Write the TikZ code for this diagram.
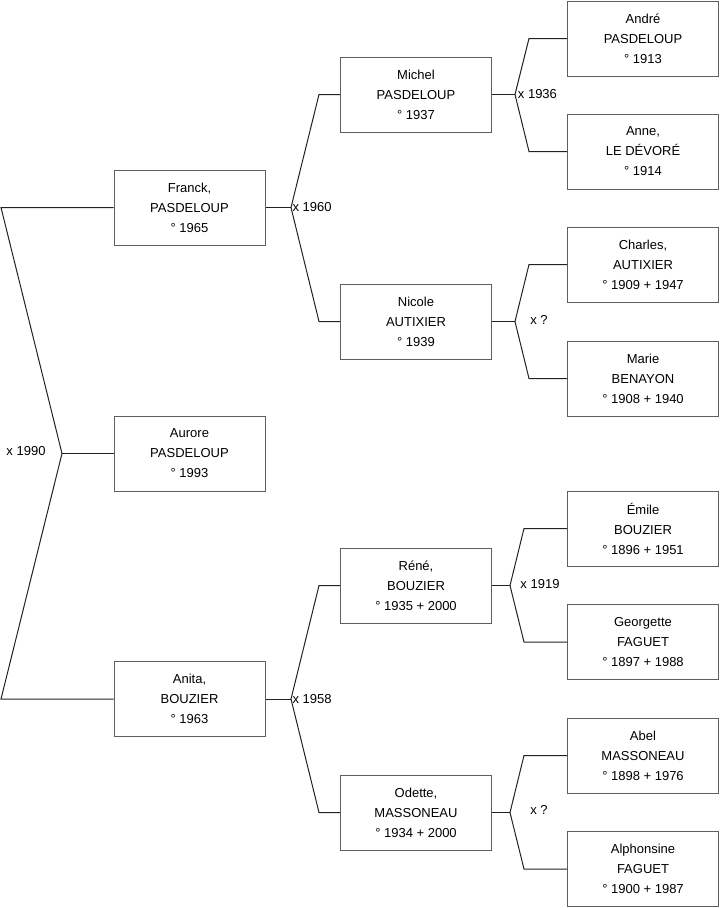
\documentclass[tikz,border=0pt]{standalone}
\usepackage{fontspec}
\setmainfont{Liberation Sans}
\definecolor{BoxGray}{HTML}{5F5F5F}
\definecolor{LineDark}{HTML}{222222}
\tikzset{
  person/.style={draw=BoxGray,line width=.75pt,minimum width=113.25pt,minimum height=56.25pt,
    align=center,inner sep=0pt,font=\fontsize{9.75}{15}\selectfont},
  union/.style={font=\fontsize{9.75}{12}\selectfont,inner sep=1pt},
  link/.style={draw=LineDark,line width=.75pt}
}
\begin{document}
\begin{tikzpicture}[x=.75pt,y=-.75pt]
  \useasboundingbox (0,0) rectangle (719,908);
  % boxes
  \node[person] (aurore) at (189.5,453.5) {Aurore\\PASDELOUP\\° 1993};
  \node[person] (franck) at (189.5,207.5) {Franck,\\PASDELOUP\\° 1965};
  \node[person] (anita) at (189.5,699) {Anita,\\BOUZIER\\° 1963};
  \node[person] (michel) at (416,94.5) {Michel\\PASDELOUP\\° 1937};
  \node[person] (nicole) at (416,321.5) {Nicole\\AUTIXIER\\° 1939};
  \node[person] (rene) at (416,585.5) {Réné,\\BOUZIER\\° 1935 + 2000};
  \node[person] (odette) at (416,812.5) {Odette,\\MASSONEAU\\° 1934 + 2000};
  \node[person] (andre) at (643,38.5) {André\\PASDELOUP\\° 1913};
  \node[person] (anne) at (643,151.5) {Anne,\\LE DÉVORÉ\\° 1914};
  \node[person] (charles) at (643,264.5) {Charles,\\AUTIXIER\\° 1909 + 1947};
  \node[person] (marie) at (643,378.5) {Marie\\BENAYON\\° 1908 + 1940};
  \node[person] (emile) at (643,528.5) {Émile\\BOUZIER\\° 1896 + 1951};
  \node[person] (georgette) at (643,642) {Georgette\\FAGUET\\° 1897 + 1988};
  \node[person] (abel) at (643,755.5) {Abel\\MASSONEAU\\° 1898 + 1976};
  \node[person] (alphonsine) at (643,869) {Alphonsine\\FAGUET\\° 1900 + 1987};
  % unions
  \coordinate (u0) at (62,453.5); \coordinate (u0a) at (1,207.5); \coordinate (u0b) at (1,699);
  \draw[link] (aurore.west) -- (u0); \draw[link] (franck.west) -- (u0a) -- (u0) -- (u0b) -- (anita.west);
  \node[union] (m0) at (26,451) {x 1990};
  \coordinate (u1) at (291,207.5); \coordinate (u1a) at (319,94.5); \coordinate (u1b) at (319,321.5);
  \draw[link] (franck.east) -- (u1); \draw[link] (michel.west) -- (u1a) -- (u1) -- (u1b) -- (nicole.west);
  \node[union,anchor=west] (m1) at (u1) {x 1960};
  \coordinate (u2) at (291,699); \coordinate (u2a) at (319,585.5); \coordinate (u2b) at (319,812.5);
  \draw[link] (anita.east) -- (u2); \draw[link] (rene.west) -- (u2a) -- (u2) -- (u2b) -- (odette.west);
  \node[union,anchor=west] (m2) at (u2) {x 1958};
  \coordinate (u3) at (515,94.5); \coordinate (u3a) at (529,38.5); \coordinate (u3b) at (529,151.5);
  \draw[link] (michel.east) -- (u3); \draw[link] (andre.west) -- (u3a) -- (u3) -- (u3b) -- (anne.west);
  \node[union,anchor=west] (m3) at ([xshift=1]u3) {x 1936};
  \coordinate (u4) at (515,321.5); \coordinate (u4a) at (529,264.5); \coordinate (u4b) at (529,378.5);
  \draw[link] (nicole.east) -- (u4); \draw[link] (charles.west) -- (u4a) -- (u4) -- (u4b) -- (marie.west);
  \node[union] (m4) at (539,320) {x ?};
  \coordinate (u5) at (510,585.5); \coordinate (u5a) at (524,528.5); \coordinate (u5b) at (524,642);
  \draw[link] (rene.east) -- (u5); \draw[link] (emile.west) -- (u5a) -- (u5) -- (u5b) -- (georgette.west);
  \node[union] (m5) at (540,584) {x 1919};
  \coordinate (u6) at (510,812.5); \coordinate (u6a) at (524,755.5); \coordinate (u6b) at (524,869);
  \draw[link] (odette.east) -- (u6); \draw[link] (abel.west) -- (u6a) -- (u6) -- (u6b) -- (alphonsine.west);
  \node[union] (m6) at (539,810) {x ?};
\end{tikzpicture}
\end{document}
